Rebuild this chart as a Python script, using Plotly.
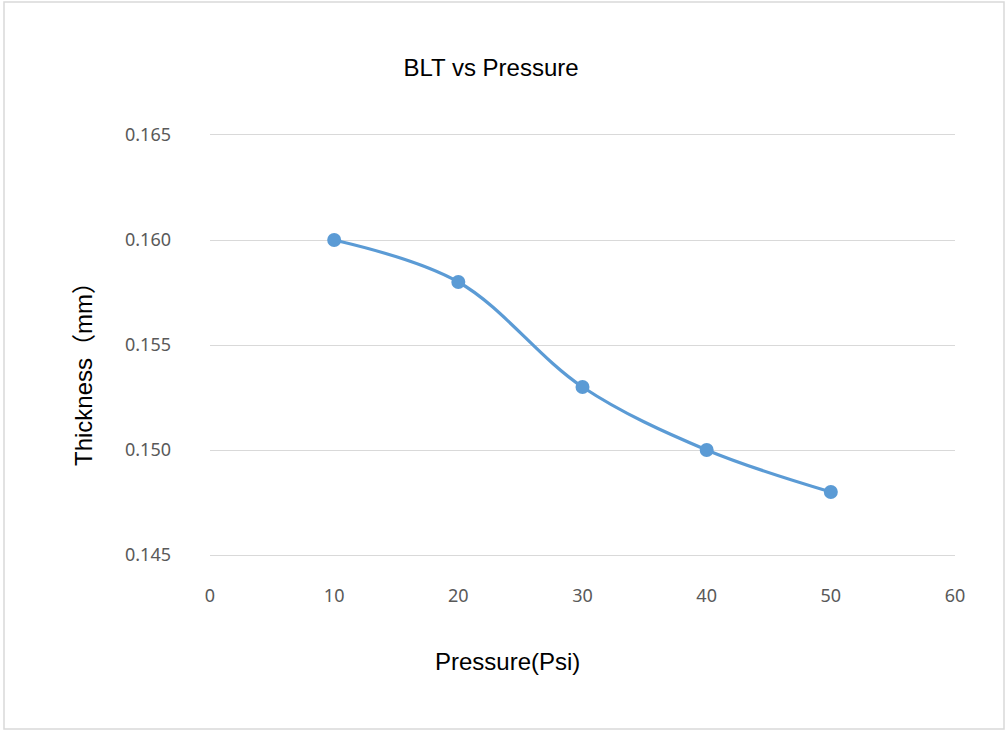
import plotly.graph_objects as go

pressure = [10, 20, 30, 40, 50]
thickness = [0.160, 0.158, 0.153, 0.150, 0.148]

W, H = 1007, 731
L, R, T, B = 210, 52, 135, 176
pw, ph = W - L - R, H - T - B


def px_to_paper(x, y):
    return (x - L) / pw, (H - B - y) / ph


fig = go.Figure()
fig.add_trace(go.Scatter(
    x=pressure, y=thickness,
    mode='lines+markers',
    line=dict(color='#5b9bd5', width=3.2, shape='spline', smoothing=1),
    marker=dict(color='#5b9bd5', size=14),
    showlegend=False,
))

x0, y0 = px_to_paper(4, 2)
x1, y1 = px_to_paper(1004, 729)
ytx, yty = px_to_paper(83, 368)
xtx, xty = px_to_paper(507, 661)

title_font = dict(family='Liberation Sans, Arial, Noto Sans CJK SC', size=24, color='black')

fig.update_layout(
    width=W, height=H,
    margin=dict(l=L, r=R, t=T, b=B),
    paper_bgcolor='white', plot_bgcolor='white',
    title=dict(text='BLT vs Pressure', x=491 / W, xanchor='center',
               y=1 - 68 / H, yanchor='middle', font=title_font),
    shapes=[dict(type='rect', xref='paper', yref='paper',
                 x0=x0, x1=x1, y0=y0, y1=y1,
                 line=dict(color='#d9d9d9', width=1.5), layer='below')],
    annotations=[
        dict(text='Thickness（mm）', xref='paper', yref='paper', x=ytx, y=yty,
             textangle=-90, showarrow=False, font=title_font,
             xanchor='center', yanchor='middle'),
        dict(text='Pressure(Psi)', xref='paper', yref='paper', x=xtx, y=xty,
             showarrow=False, font=title_font, xanchor='center', yanchor='middle'),
    ],
)

# top/bottom gridlines sit on the plot edges, so draw them as the x axis line
fig.update_xaxes(
    range=[0, 60], dtick=10, showgrid=False, zeroline=False,
    showline=True, mirror=True, linecolor='#d9d9d9', linewidth=1,
    tickfont=dict(family='Noto Sans', size=18, color='#595959'),
    ticks='', ticklabelstandoff=24,
)
fig.update_yaxes(
    range=[0.145, 0.165], dtick=0.005, tickformat='.3f',
    showgrid=True, gridcolor='#d9d9d9', gridwidth=1, zeroline=False, showline=False,
    tickfont=dict(family='Noto Sans', size=18, color='#595959'),
    ticks='', ticklabelstandoff=38,
)

# drop the default 8px page margin so the chart sits flush with the window
fig.write_html('out.html', config={'displayModeBar': False},
               post_script="document.body.style.margin='0px';")
